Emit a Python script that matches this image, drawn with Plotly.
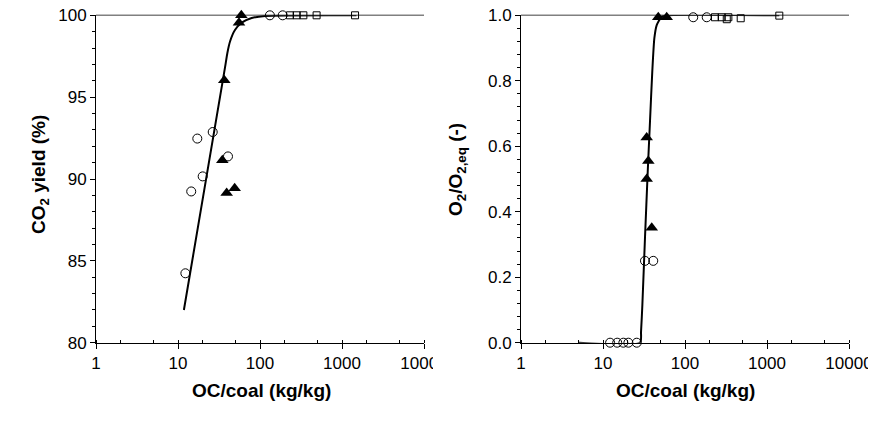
import plotly.graph_objects as go

# ---------------- data ----------------
# Left panel: CO2 yield (%) vs OC/coal (kg/kg)
left_circle_x = [12.3, 14.5, 17.2, 20.0, 26.5, 40.7, 132, 189]
left_circle_y = [84.24, 89.24, 92.47, 90.16, 92.87, 91.38, 100, 100]
left_tri_x = [34.7, 39.2, 49.1, 36.7, 55.4, 59.2]
left_tri_y = [91.14, 89.14, 89.44, 96.04, 99.55, 100]
left_sq_x = [232, 280, 338, 490, 1442]
left_sq_y = [100, 100, 100, 100, 100]
left_fit_x = [11.8, 37.4, 40.0, 43.1, 49.5, 59.8, 79.2, 115, 1500]
left_fit_y = [82.0, 96.8, 97.7, 98.4, 99.1, 99.55, 99.83, 99.96, 100]

# Right panel: O2/O2,eq (-) vs OC/coal (kg/kg)
right_circle_x = [12.2, 14.9, 17.7, 20.4, 25.8, 32.5, 41.0, 126, 184]
right_circle_y = [0, 0, 0, 0, 0, 0.25, 0.25, 0.994, 0.994]
right_tri_x = [34.1, 35.7, 34.1, 39.3, 47.2, 59.8]
right_tri_y = [0.627, 0.555, 0.50, 0.351, 0.994, 0.994]
right_sq_x = [232, 280, 323, 338, 478, 1413]
right_sq_y = [0.994, 0.994, 0.988, 0.994, 0.991, 0.999]
right_fit_x = [5.1, 28.3, 29.1, 30.2, 32.5, 35.1, 37.4, 39.9, 42.3, 45.2, 52, 60, 1413]
right_fit_y = [0, 0, 0.034, 0.115, 0.319, 0.522, 0.675, 0.828, 0.93, 0.97, 0.996, 1.0, 1.0]

x_tickvals = [1, 10, 100, 1000, 10000]
x_ticktext = ["1", "10", "100", "1000", "10000"]
left_y_ticks = [80, 85, 90, 95, 100]
right_y_ticks = [0.0, 0.2, 0.4, 0.6, 0.8, 1.0]
right_y_ticktext = ["0.0", "0.2", "0.4", "0.6", "0.8", "1.0"]

# ---------------- figure ----------------
W, H = 876, 423
OFF = 8  # page body margin
FONT = "Arial, Liberation Sans, sans-serif"


def px(xp):
    return (xp - OFF) / W


def py(yp):
    return 1 - (yp - OFF) / H


fig = go.Figure()


def add_panel(xa, ya, fx, fy, cx, cy, tx, ty, sx, sy):
    fig.add_trace(go.Scatter(x=fx, y=fy, mode="lines", xaxis=xa, yaxis=ya,
                             line=dict(color="black", width=2, shape="spline", smoothing=0.6),
                             showlegend=False, hoverinfo="skip"))
    fig.add_trace(go.Scatter(x=cx, y=cy, mode="markers", xaxis=xa, yaxis=ya,
                             marker=dict(symbol="circle-open", size=9,
                                         line=dict(color="black", width=1), color="black"),
                             showlegend=False, cliponaxis=False))
    fig.add_trace(go.Scatter(x=sx, y=sy, mode="markers", xaxis=xa, yaxis=ya,
                             marker=dict(symbol="square-open", size=7,
                                         line=dict(color="black", width=1), color="black"),
                             showlegend=False, cliponaxis=False))
    fig.add_trace(go.Scatter(x=tx, y=ty, mode="markers", xaxis=xa, yaxis=ya,
                             marker=dict(symbol="triangle-up", size=11, color="black",
                                         line=dict(width=0)),
                             showlegend=False, cliponaxis=False))


add_panel("x", "y", left_fit_x, left_fit_y, left_circle_x, left_circle_y,
          left_tri_x, left_tri_y, left_sq_x, left_sq_y)
add_panel("x2", "y2", right_fit_x, right_fit_y, right_circle_x, right_circle_y,
          right_tri_x, right_tri_y, right_sq_x, right_sq_y)

ydom = [py(342.7), py(15.3)]
xdom1 = [px(96), px(424)]
xdom2 = [px(521), px(849)]

tickfont = dict(family=FONT, size=17, color="black")
xaxis_common = dict(type="log", range=[0, 4], tickvals=x_tickvals, ticktext=x_ticktext,
                    showgrid=False, zeroline=False, showline=True, linecolor="black",
                    linewidth=1, ticks="outside", ticklen=5, tickcolor="black",
                    tickfont=tickfont, automargin=False, ticklabeloverflow="allow",
                    minor=dict(ticks="inside", ticklen=3, tickcolor="black",
                               dtick="D2", showgrid=False))
yaxis_common = dict(showgrid=False, zeroline=False, showline=True, linecolor="black",
                    linewidth=1, ticks="outside", ticklen=5, tickcolor="black",
                    tickfont=tickfont, automargin=False, ticklabeloverflow="allow")

fig.update_layout(
    width=W, height=H,
    margin=dict(l=0, r=0, t=0, b=0, pad=0, autoexpand=False),
    paper_bgcolor="white", plot_bgcolor="white",
    xaxis=dict(domain=xdom1, anchor="y", **xaxis_common),
    xaxis2=dict(domain=xdom2, anchor="y2", **xaxis_common),
    yaxis=dict(domain=ydom, anchor="x", range=[80, 100], tickvals=left_y_ticks,
               minor=dict(ticks="outside", ticklen=3, tickcolor="black", dtick=1),
               **yaxis_common),
    yaxis2=dict(domain=ydom, anchor="x2", range=[0, 1], tickvals=right_y_ticks,
                ticktext=right_y_ticktext,
                minor=dict(ticks="outside", ticklen=3, tickcolor="black", dtick=0.04),
                **yaxis_common),
)

# gray top borders
for xr, yr in (("x domain", "y domain"), ("x2 domain", "y2 domain")):
    fig.add_shape(type="line", xref=xr, yref=yr, x0=0, x1=1, y0=1, y1=1,
                  line=dict(color="#808080", width=1.5), layer="below")

# clip the last tick label of left panel (as in the reference)
fig.add_shape(type="rect", xref="paper", yref="paper",
              x0=px(433), x1=px(452), y0=py(378), y1=py(346),
              fillcolor="white", line=dict(width=0), layer="above")

titlefont = dict(family=FONT, size=19, color="black")
fig.add_annotation(text="<b>OC/coal (kg/kg)</b>", xref="paper", yref="paper",
                   x=px(261), y=py(390), showarrow=False, font=titlefont,
                   xanchor="center", yanchor="middle")
fig.add_annotation(text="<b>OC/coal (kg/kg)</b>", xref="paper", yref="paper",
                   x=px(685), y=py(390), showarrow=False, font=titlefont,
                   xanchor="center", yanchor="middle")
fig.add_annotation(text="<b>CO<sub>2</sub> yield (%)</b>", xref="paper", yref="paper",
                   x=px(40), y=py(175), showarrow=False, font=titlefont,
                   textangle=-90, xanchor="center", yanchor="middle")
fig.add_annotation(text="<b>O<sub>2</sub>/O<sub>2,eq</sub> (-)</b>", xref="paper", yref="paper",
                   x=px(457), y=py(170), showarrow=False, font=titlefont,
                   textangle=-90, xanchor="center", yanchor="middle")

fig.write_html("out.html")
